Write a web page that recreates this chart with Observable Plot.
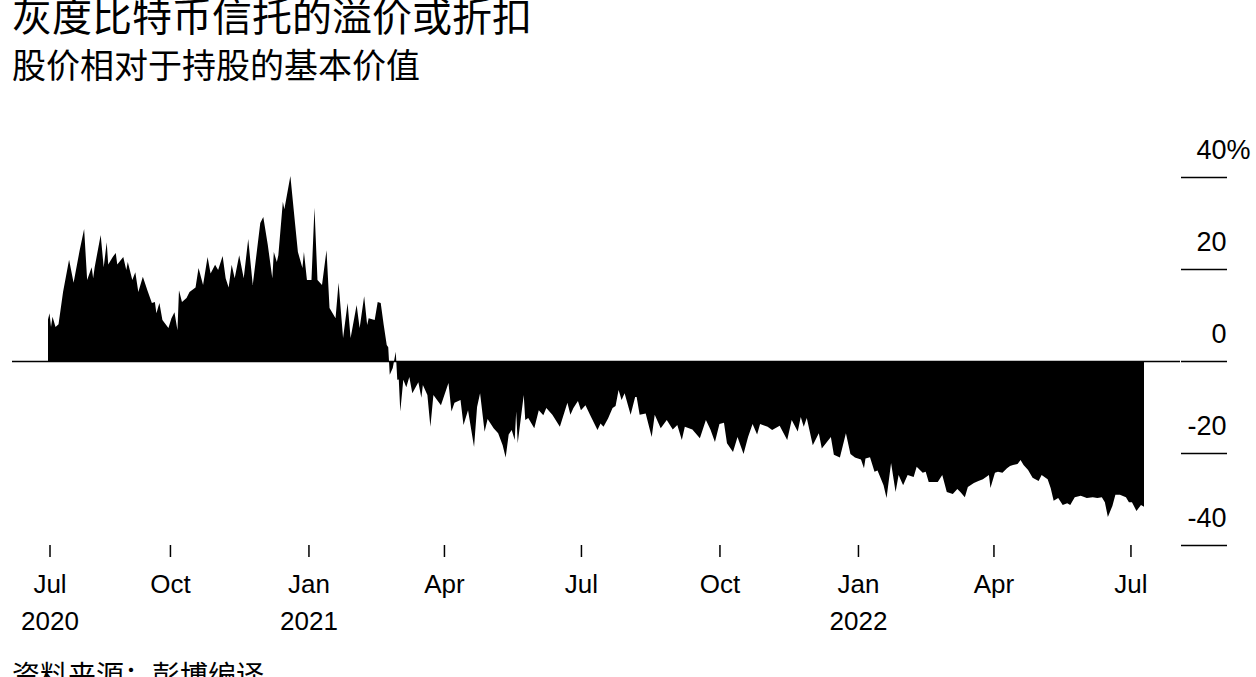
<!DOCTYPE html>
<html>
<head>
<meta charset="utf-8">
<script src="https://cdn.jsdelivr.net/npm/d3@7"></script>
<script src="https://cdn.jsdelivr.net/npm/@observablehq/plot@0.6"></script>
<style>
  html, body { margin: 0; padding: 0; background: #fff; width: 1256px; height: 677px; overflow: hidden; }
  #wrap { position: relative; width: 1256px; height: 677px; }
  .cjk { font-family: "Noto Sans CJK SC", "Noto Sans", sans-serif; color: #000; position: absolute; left: 12px; line-height: 1; white-space: nowrap; }
  #title { top: -6px; font-size: 40px; }
  #subtitle { top: 47px; font-size: 34px; }
  #caption { top: 660px; font-size: 28px; }
  #chart { position: absolute; left: 0; top: 100px; }
</style>
</head>
<body>
<div id="wrap">
  <div id="title" class="cjk">灰度比特币信托的溢价或折扣</div>
  <div id="subtitle" class="cjk">股价相对于持股的基本价值</div>
  <div id="chart"></div>
  <div id="caption" class="cjk">资料来源：彭博编译</div>
</div>
<script>
const dates = [
"2020-07-12","2020-07-13","2020-07-14","2020-07-15","2020-07-17","2020-07-19","2020-07-22","2020-07-26","2020-07-29","2020-08-02",
"2020-08-05","2020-08-07","2020-08-10","2020-08-11","2020-08-12","2020-08-16","2020-08-18","2020-08-20","2020-08-21","2020-08-24",
"2020-08-26","2020-08-27","2020-08-31","2020-09-02","2020-09-03","2020-09-06","2020-09-08","2020-09-10","2020-09-13","2020-09-16",
"2020-09-19","2020-09-21","2020-09-22","2020-09-24","2020-09-26","2020-09-30","2020-10-02","2020-10-04","2020-10-06","2020-10-07",
"2020-10-09","2020-10-12","2020-10-14","2020-10-18","2020-10-20","2020-10-23","2020-10-26","2020-10-28","2020-10-31","2020-11-02",
"2020-11-05","2020-11-07","2020-11-09","2020-11-11","2020-11-13","2020-11-16","2020-11-19","2020-11-22","2020-11-25","2020-11-30",
"2020-12-02","2020-12-05","2020-12-08","2020-12-09","2020-12-11","2020-12-12","2020-12-15","2020-12-16","2020-12-20","2020-12-23",
"2020-12-25","2020-12-28","2020-12-29","2020-12-31","2021-01-03","2021-01-05","2021-01-07","2021-01-10","2021-01-13","2021-01-15",
"2021-01-19","2021-01-21","2021-01-24","2021-01-27","2021-01-29","2021-02-02","2021-02-04","2021-02-07","2021-02-09","2021-02-10",
"2021-02-14","2021-02-16","2021-02-18","2021-02-20","2021-02-22","2021-02-23","2021-02-24","2021-02-26","2021-02-28","2021-03-01",
"2021-03-02","2021-03-03","2021-03-05","2021-03-07","2021-03-09","2021-03-11","2021-03-15","2021-03-17","2021-03-18","2021-03-21",
"2021-03-23","2021-03-25","2021-03-30","2021-04-04","2021-04-06","2021-04-08","2021-04-12","2021-04-14","2021-04-17","2021-04-21",
"2021-04-23","2021-04-25","2021-04-28","2021-04-30","2021-05-04","2021-05-07","2021-05-10","2021-05-12","2021-05-14","2021-05-16",
"2021-05-18","2021-05-19","2021-05-20","2021-05-24","2021-05-25","2021-05-27","2021-05-31","2021-06-03","2021-06-06","2021-06-08",
"2021-06-12","2021-06-17","2021-06-22","2021-06-24","2021-06-26","2021-06-29","2021-07-01","2021-07-04","2021-07-07","2021-07-12",
"2021-07-14","2021-07-16","2021-07-19","2021-07-22","2021-07-24","2021-07-26","2021-07-28","2021-07-30","2021-08-03","2021-08-06",
"2021-08-07","2021-08-09","2021-08-13","2021-08-17","2021-08-19","2021-08-23","2021-08-27","2021-08-31","2021-09-03","2021-09-06",
"2021-09-08","2021-09-13","2021-09-18","2021-09-22","2021-09-25","2021-09-28","2021-10-01","2021-10-04","2021-10-06","2021-10-10",
"2021-10-13","2021-10-17","2021-10-20","2021-10-23","2021-10-26","2021-10-28","2021-11-02","2021-11-05","2021-11-10","2021-11-15",
"2021-11-18","2021-11-22","2021-11-24","2021-11-26","2021-11-28","2021-12-02","2021-12-06","2021-12-08","2021-12-14","2021-12-16",
"2021-12-20","2021-12-24","2021-12-27","2021-12-30","2022-01-03","2022-01-05","2022-01-06","2022-01-09","2022-01-12","2022-01-14",
"2022-01-18","2022-01-20","2022-01-23","2022-01-26","2022-01-28","2022-01-31","2022-02-03","2022-02-07","2022-02-09","2022-02-13",
"2022-02-15","2022-02-17","2022-02-23","2022-02-26","2022-03-01","2022-03-05","2022-03-08","2022-03-10","2022-03-13","2022-03-15",
"2022-03-19","2022-03-22","2022-03-25","2022-03-29","2022-03-30","2022-04-02","2022-04-04","2022-04-07","2022-04-10","2022-04-12",
"2022-04-14","2022-04-17","2022-04-19","2022-04-21","2022-04-24","2022-04-27","2022-05-01","2022-05-03","2022-05-07","2022-05-09",
"2022-05-11","2022-05-14","2022-05-17","2022-05-20","2022-05-22","2022-05-25","2022-05-29","2022-06-02","2022-06-06","2022-06-09",
"2022-06-12","2022-06-14","2022-06-16","2022-06-19","2022-06-21","2022-06-24","2022-06-28","2022-06-30","2022-07-02","2022-07-05",
"2022-07-08","2022-07-10"
];
const premium = [
9,10.4,7.4,9.6,7.4,8,15,22,17,24,
28.7,17.6,20.4,18,20.4,27.4,20.4,25.8,21,22.6,
23.5,21,22.6,19.8,21.5,17.6,19.3,15,18.3,15.4,
12.6,12.8,10.4,12.6,8.9,7.2,9.3,10.6,6.7,15.4,
12.8,13.7,15,16,20.2,16.5,22.6,19,20.9,19.8,
22.8,18,16,20.9,18,23,18,26.5,16.5,30,
31.3,25.2,18,23.7,21.5,23,34.6,33,40.2,30.2,
23.7,20.2,23.7,17.6,17.6,33.3,17.6,16.5,24.1,11.5,
9.3,17,5,12.6,5,12.2,7.2,14.1,7.8,9.3,
8.9,12.8,12.6,7.8,3.5,3,-3,-1.5,2,-4.1,
-4,-11,-4.1,-5.7,-3.5,-7,-4.6,-8,-5.2,-7.4,
-14.3,-7.4,-9.6,-4.8,-11,-9.1,-8.5,-13.9,-10.7,-18.7,
-10,-7,-15.4,-12.6,-14.6,-15.7,-18.3,-21,-16,-15,
-17.2,-11,-17.9,-7.4,-12.8,-12.4,-14.6,-10.7,-11.8,-10.2,
-11.7,-14.3,-9.1,-11.7,-10.2,-8.7,-10.7,-9.6,-11.7,-15,
-13.6,-14.3,-12.5,-10.2,-9.8,-6.3,-8.5,-7,-11.7,-7.8,
-7.8,-11.7,-11.4,-16.5,-11.7,-14.6,-12.8,-14.9,-13.9,-17.2,
-14.3,-14.9,-16.8,-12.8,-14.9,-17.6,-13.7,-13.4,-17.9,-19.8,
-16.5,-20.2,-16.5,-13.7,-16,-13.7,-14.3,-15,-14.1,-17.2,
-12.8,-15.3,-12.2,-14.3,-12.4,-18.3,-15.7,-19,-16.5,-20.4,
-21,-15.7,-20.2,-21,-21.4,-23.3,-21.2,-20.9,-24.1,-23.8,
-27,-29.8,-22.2,-28.5,-24.8,-27,-24.8,-25.2,-23,-24.3,
-24.1,-26.3,-26.3,-24.8,-28.5,-28.9,-27.8,-28.5,-29.6,-27.4,
-26.5,-26.1,-25.7,-24.8,-27.6,-24.3,-24.1,-24.3,-23.3,-22.8,
-22.6,-22.4,-21.5,-22.6,-23.7,-25.4,-26.1,-24.8,-25.7,-27.6,
-30.4,-29.8,-31.3,-30.9,-31.3,-29.6,-29.3,-29.8,-29.6,-29.8,
-29.6,-30.7,-33.9,-31.5,-29.1,-29.1,-29.6,-30.7,-30.7,-32.6,
-31.3,-31.7
];
const xTickDates = ["2020-07-13","2020-10-01","2021-01-01","2021-04-01","2021-07-01","2021-10-01","2022-01-01","2022-04-01","2022-07-01"];
const xTickLabels = ["Jul\n2020","Oct","Jan\n2021","Apr","Jul","Oct","Jan\n2022","Apr","Jul"];
const yTicks = [-40, -20, 0, 20, 40];
const yTickLabels = ["-40", "-20", "0", "20", "40"];

const data = dates.map((d, i) => ({date: new Date(d), value: premium[i]}));
const tickDates = xTickDates.map(d => new Date(d));
const labelMap = new Map(tickDates.map((d, i) => [+d, xTickLabels[i]]));
const yLabelMap = new Map(yTicks.map((v, i) => [v, yTickLabels[i]]));

const chart = Plot.plot({
  width: 1256,
  height: 555,
  marginLeft: 12,
  marginRight: 76,
  marginTop: 77,
  marginBottom: 110,
  style: {fontFamily: "'Liberation Sans', Arial, sans-serif", fontSize: "26px", color: "#000", background: "#fff"},
  x: {type: "utc", domain: [new Date(dates[0]), new Date(dates[dates.length - 1])], range: [48, 1144]},
  y: {domain: [-40, 40]},
  marks: [
    Plot.areaY(data, {x: "date", y: "value", fill: "#000", curve: "linear"}),
    Plot.ruleY([0], {stroke: "#000", strokeWidth: 1.5}),
    Plot.axisY({anchor: "right", ticks: yTicks, tickSize: 46, strokeWidth: 1.5, tickFormat: () => "", label: null}),
    Plot.text(yTicks, {y: d => d, text: d => yLabelMap.get(d), frameAnchor: "right", dx: 46, dy: -27, textAnchor: "end", lineAnchor: "middle", fontSize: 27, fill: "#000"}),
    Plot.text([40], {y: d => d, text: () => "%", frameAnchor: "right", dx: 46, dy: -27, textAnchor: "start", lineAnchor: "middle", fontSize: 27, fill: "#000"}),
    Plot.axisX({ticks: tickDates, tickFormat: d => labelMap.get(+d), tickSize: 12, tickPadding: 10, strokeWidth: 1.5, fontSize: 26, lineHeight: 1.4, label: null})
  ]
});
document.getElementById("chart").appendChild(chart);
</script>
</body>
</html>
